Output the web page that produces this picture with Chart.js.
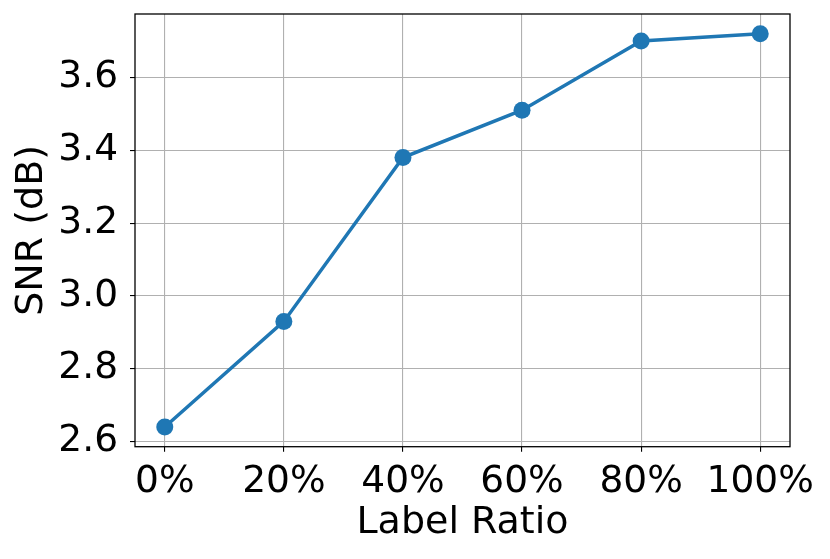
<!DOCTYPE html>
<html>
<head>
<meta charset="utf-8">
<script src="https://cdn.jsdelivr.net/npm/chart.js@4"></script>
<style>
  html, body { margin: 0; padding: 0; background: #fff; }
  #wrap { width: 830px; height: 559px; }
</style>
</head>
<body>
<div id="wrap"><canvas id="chart" width="830" height="559"></canvas></div>
<script>
// Data
const labelRatios = [0, 20, 40, 60, 80, 100];
const snrValues = [2.64, 2.93, 3.38, 3.51, 3.70, 3.72];
const xTicks = [0, 20, 40, 60, 80, 100];
const yTicks = [2.6, 2.8, 3.0, 3.2, 3.4, 3.6];

const FONT = 'DejaVu Sans';
const LINE_BLUE = '#1f77b4';

// draw the full black frame around the plot area (matplotlib style)
const frame = {
    id: 'frame',
    afterDraw(chart) {
        const a = chart.chartArea;
        const ctx = chart.ctx;
        ctx.save();
        ctx.strokeStyle = '#000';
        ctx.lineWidth = 1.3;
        ctx.strokeRect(a.left, a.top, a.right - a.left, a.bottom - a.top);
        ctx.restore();
    }
};

new Chart(document.getElementById('chart'), {
    type: 'line',
    data: {
        datasets: [{
            data: labelRatios.map((x, i) => ({ x: x, y: snrValues[i] })),
            borderColor: LINE_BLUE,
            backgroundColor: LINE_BLUE,
            borderWidth: 3.5,
            pointRadius: 8.5,
            pointHoverRadius: 8.5,
            pointBorderWidth: 0,
            tension: 0
        }]
    },
    options: {
        responsive: false,
        animation: false,
        layout: { padding: { top: 14, right: 40, left: 0, bottom: 0 } },
        plugins: { legend: { display: false }, tooltip: { enabled: false } },
        scales: {
            x: {
                type: 'linear',
                min: -5,
                max: 105,
                afterBuildTicks: axis => { axis.ticks = xTicks.map(v => ({ value: v })); },
                afterFit: axis => {
                    axis.height = 112.3;
                    axis.paddingLeft = 0;
                    axis.paddingRight = 0;
                },
                grid: { color: '#b0b0b0', lineWidth: 1.1, tickColor: '#000', tickLength: 5, drawOnChartArea: true },
                border: { display: false },
                ticks: {
                    color: '#000',
                    padding: 8,
                    maxRotation: 0,
                    font: { family: FONT, size: 37.5 },
                    callback: v => v + '%'
                },
                title: {
                    display: true,
                    text: 'Label Ratio',
                    color: '#000',
                    font: { family: FONT, size: 38 },
                    padding: { top: 0, bottom: 12.6 }
                }
            },
            y: {
                min: 2.586,
                max: 3.774,
                afterBuildTicks: axis => { axis.ticks = yTicks.map(v => ({ value: v })); },
                afterFit: axis => {
                    axis.width = 135;
                    axis.paddingTop = 0;
                    axis.paddingBottom = 0;
                },
                grid: { color: '#b0b0b0', lineWidth: 1.1, tickColor: '#000', tickLength: 5 },
                border: { display: false },
                ticks: {
                    color: '#000',
                    padding: 12,
                    font: { family: FONT, size: 37.5 },
                    callback: v => v.toFixed(1)
                },
                title: {
                    display: true,
                    text: 'SNR (dB)',
                    color: '#000',
                    font: { family: FONT, size: 38 },
                    padding: { top: 9, bottom: 0 }
                }
            }
        }
    },
    plugins: [frame]
});
</script>
</body>
</html>
